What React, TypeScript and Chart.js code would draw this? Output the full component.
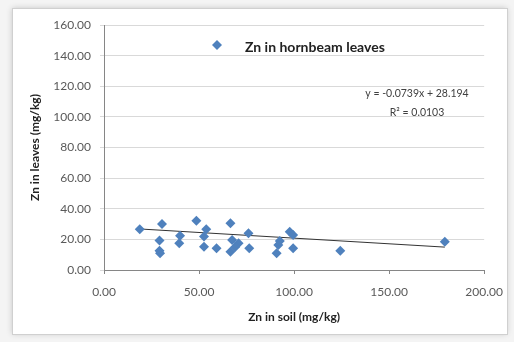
import React, { useEffect, useRef } from "react";
import { Chart, registerables } from "chart.js";

Chart.register(...registerables);

const soilZn = [18.8, 30.5, 29.2, 29.2, 29.5, 40.0, 39.6, 48.6, 53.8, 52.6, 52.6, 59.2, 66.5, 67.4, 66.5, 70.8, 69.0, 76.0, 76.4, 90.8, 91.7, 92.5, 97.7, 99.5, 99.5, 124.3, 179.3];
const leafZn = [26.6, 30.0, 19.2, 12.5, 11.0, 22.4, 17.4, 32.2, 26.6, 21.8, 15.2, 14.2, 30.5, 19.6, 12.0, 17.4, 15.0, 24.0, 14.2, 10.9, 16.3, 19.0, 25.0, 22.9, 14.2, 12.6, 18.5];

const trendSlope = -0.0739;
const trendIntercept = 28.194;
const r2 = 0.0103;

const seriesName = "Zn in hornbeam leaves";
const xTitle = "Zn in soil (mg/kg)";
const yTitle = "Zn in leaves (mg/kg)";
const xTicks = [0, 50, 100, 150, 200];
const yTicks = [0, 20, 40, 60, 80, 100, 120, 140, 160];

const FONT = "Lato, 'Open Sans', sans-serif";
const MARKER = "#4f81bd";

const framePlugin = {
  id: "frame",
  beforeDraw(chart: any) {
    const ctx = chart.ctx;
    ctx.save();
    ctx.fillStyle = "#f4f4f4";
    ctx.fillRect(0, 0, chart.width, chart.height);
    ctx.shadowColor = "rgba(0,0,0,0.18)";
    ctx.shadowBlur = 6;
    ctx.fillStyle = "#ffffff";
    ctx.fillRect(12, 8, 495, 326);
    ctx.shadowBlur = 0;
    ctx.strokeStyle = "#d0d0d0";
    ctx.lineWidth = 1;
    ctx.strokeRect(12.5, 8.5, 495, 326);
    ctx.restore();
  },
  afterDraw(chart: any) {
    const ctx = chart.ctx;
    const a = chart.chartArea;
    ctx.save();
    // legend
    const lx = a.left + 113;
    const ly = a.top + 20;
    ctx.fillStyle = MARKER;
    ctx.beginPath();
    ctx.moveTo(lx, ly - 5);
    ctx.lineTo(lx + 5, ly);
    ctx.lineTo(lx, ly + 5);
    ctx.lineTo(lx - 5, ly);
    ctx.closePath();
    ctx.fill();
    ctx.fillStyle = "#222222";
    ctx.font = `bold 14px ${FONT}`;
    ctx.textBaseline = "middle";
    ctx.textAlign = "left";
    ctx.fillText(seriesName, lx + 28, ly + 2);
    // equation
    ctx.font = `10.5px ${FONT}`;
    ctx.fillStyle = "#404040";
    ctx.textAlign = "center";
    const eq = `y = ${trendSlope.toFixed(4)}x + ${trendIntercept.toFixed(3)}`;
    ctx.fillText(eq, a.left + 313, a.top + 69);
    ctx.fillText(`R² = ${r2.toFixed(4)}`, a.left + 313, a.top + 88);
    ctx.restore();
  },
};

export default function App() {
  const ref = useRef<HTMLCanvasElement | null>(null);
  useEffect(() => {
    if (!ref.current) return;
    Chart.defaults.font.family = FONT;
    const xMin = Math.min(...soilZn);
    const xMax = Math.max(...soilZn);
    const points = soilZn.map((x, i) => ({ x, y: leafZn[i] }));
    const trend = [xMin, xMax].map((x) => ({ x, y: trendSlope * x + trendIntercept }));
    const chart = new Chart(ref.current, {
      type: "scatter",
      data: {
        datasets: [
          {
            label: seriesName,
            data: points,
            pointStyle: "rectRot",
            pointRadius: 5,
            pointBackgroundColor: MARKER,
            pointBorderColor: MARKER,
            pointBorderWidth: 0,
            order: 1,
          },
          {
            type: "line",
            label: "trend",
            data: trend,
            borderColor: "#333333",
            borderWidth: 1,
            pointRadius: 0,
            fill: false,
            order: 2,
          } as any,
        ],
      },
      options: {
        responsive: false,
        animation: false,
        events: [],
        layout: { padding: { left: 20, right: 26, top: 25, bottom: 17 } },
        plugins: { legend: { display: false }, tooltip: { enabled: false } },
        scales: {
          x: {
            type: "linear",
            min: 0,
            max: 200,
            afterBuildTicks: (s: any) => {
              s.ticks = xTicks.map((v) => ({ value: v }));
            },
            afterFit: (s: any) => {
              s.height = 55;
            },
            ticks: {
              padding: 11,
              color: "#595959",
              font: { size: 12 },
              callback: (v: any) => Number(v).toFixed(2),
            },
            grid: { drawOnChartArea: false, drawTicks: true, tickLength: 4, color: "#868686" },
            border: { color: "#868686" },
            title: {
              display: true,
              text: xTitle,
              color: "#222222",
              font: { size: 12, weight: "bold" },
              padding: { top: 0, bottom: 1 },
            },
          },
          y: {
            type: "linear",
            min: 0,
            max: 160,
            afterBuildTicks: (s: any) => {
              s.ticks = yTicks.map((v) => ({ value: v }));
            },
            afterFit: (s: any) => {
              s.width = 84;
            },
            ticks: {
              padding: 9,
              color: "#595959",
              font: { size: 12 },
              callback: (v: any) => Number(v).toFixed(2),
            },
            grid: { color: "#d9d9d9", drawTicks: true, tickLength: 4 },
            border: { color: "#868686" },
            title: {
              display: true,
              text: yTitle,
              color: "#222222",
              font: { size: 12, weight: "bold" },
              padding: { top: 8, bottom: 0 },
            },
          },
        },
      },
      plugins: [framePlugin],
    });
    return () => chart.destroy();
  }, []);
  return (
    <div style={{ position: "fixed", left: 0, top: 0, width: 514, height: 342 }}>
      <canvas ref={ref} width={514} height={342} style={{ width: 514, height: 342, display: "block" }} />
    </div>
  );
}
